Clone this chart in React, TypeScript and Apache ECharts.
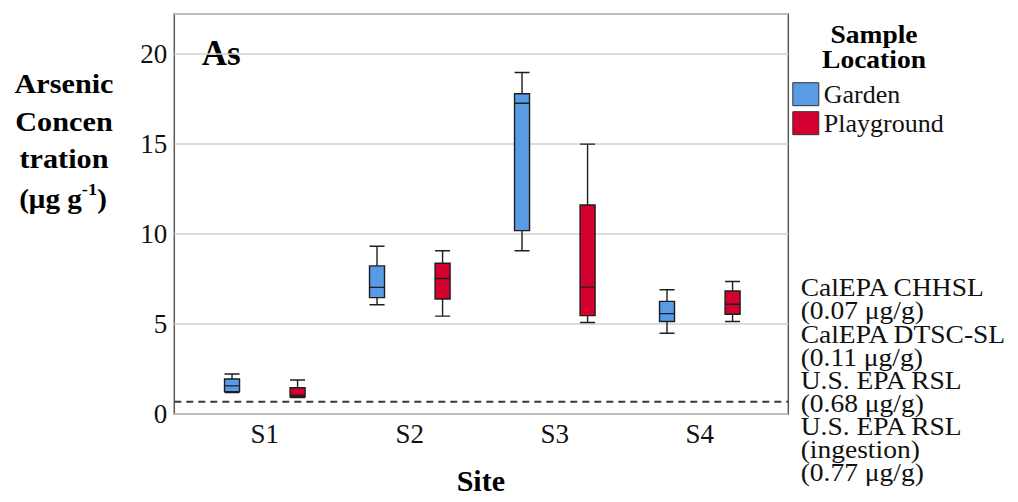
import React, { useEffect, useRef } from "react";
import * as echarts from "echarts";

const categories = ["S1", "S2", "S3", "S4"];
// [min, Q1, median, Q3, max]
const gardenStats = [
  [1.19, 1.24, 1.56, 1.94, 2.22],
  [6.06, 6.46, 7.03, 8.22, 9.31],
  [9.06, 10.18, 17.25, 17.77, 18.95],
  [4.48, 5.13, 5.57, 6.25, 6.9],
];
const playgroundStats = [
  [0.91, 0.96, 1.05, 1.46, 1.89],
  [5.43, 6.38, 7.52, 8.37, 9.06],
  [5.08, 5.46, 7.04, 11.6, 14.98],
  [5.13, 5.54, 6.09, 6.83, 7.35],
];
const seriesNames = ["Garden", "Playground"];
const referenceLevel = 0.68;
const yTicks = [0, 5, 10, 15, 20];
const yAxisTitleLines = ["Arsenic", "Concen", "tration"];
const legendTitle = "Sample\nLocation";
const panelLabel = "As";
const xAxisTitle = "Site";
const guidelineLines = [
  "CalEPA CHHSL",
  "(0.07 μg/g)",
  "CalEPA DTSC-SL",
  "(0.11 μg/g)",
  "U.S. EPA RSL",
  "(0.68 μg/g)",
  "U.S. EPA RSL",
  "(ingestion)",
  "(0.77 μg/g)",
];

const FONT = "'Liberation Serif', 'Times New Roman', serif";
const BLUE = "#5a9be6";
const RED = "#d4002f";
const EDGE = "#1e1e1e";

export default function App() {
  const ref = useRef<HTMLDivElement>(null);

  useEffect(() => {
    if (!ref.current) return;
    const chart = echarts.init(ref.current, null, { renderer: "svg" });

    const frame = { left: 174.3, top: 14, width: 614, height: 400 };
    const yMax = 22.2;
    const colors = [BLUE, RED];

    const option: any = {
      animation: false,
      backgroundColor: "#ffffff",
      textStyle: { fontFamily: FONT },
      grid: [
        {
          ...frame,
          show: true,
          borderColor: "#5a5a5a",
          borderWidth: 1.5,
          backgroundColor: "transparent",
        },
        { left: 192.3, top: 14, width: 580, height: 400, show: false },
      ],
      xAxis: [
        { type: "value", gridIndex: 0, min: 0, max: 1, show: false },
        {
          type: "category",
          gridIndex: 1,
          data: categories,
          axisLine: { show: false },
          axisTick: { show: false },
          axisLabel: {
            fontSize: 27,
            fontFamily: FONT,
            color: "#111",
            margin: 6,
          },
        },
      ],
      yAxis: [
        {
          type: "value",
          gridIndex: 0,
          min: 0,
          max: yMax,
          interval: 5,
          axisLine: { show: false },
          axisTick: { show: false },
          axisLabel: {
            fontSize: 27,
            fontFamily: FONT,
            color: "#111",
            margin: 7,
            showMaxLabel: false,
            formatter: (v: number) => (yTicks.includes(v) ? String(v) : ""),
          },
          splitLine: { lineStyle: { color: "#d2d2d2", width: 1.6 } },
        },
        {
          type: "value",
          gridIndex: 1,
          min: 0,
          max: yMax,
          show: false,
          splitLine: { show: false },
        },
      ],
      legend: {
        data: seriesNames.map((n, i) => ({
          name: n,
          itemStyle: { color: colors[i], borderColor: "#333", borderWidth: 1 },
        })),
        orient: "vertical",
        left: 792.3,
        top: 81.2,
        padding: 0,
        itemWidth: 26,
        itemHeight: 23,
        itemGap: 3,
        icon: "rect",
        textStyle: { fontSize: 26, fontFamily: FONT, color: "#111" },
      },
      series: [
        {
          name: seriesNames[0],
          type: "boxplot",
          xAxisIndex: 1,
          yAxisIndex: 1,
          data: gardenStats,
          boxWidth: [15, 15],
          itemStyle: { color: BLUE, borderColor: EDGE, borderWidth: 1.4 },
        },
        {
          name: seriesNames[1],
          type: "boxplot",
          xAxisIndex: 1,
          yAxisIndex: 1,
          data: playgroundStats,
          boxWidth: [15, 15],
          itemStyle: { color: RED, borderColor: EDGE, borderWidth: 1.4 },
        },
        {
          name: "reference",
          type: "line",
          xAxisIndex: 0,
          yAxisIndex: 0,
          data: [
            [0, referenceLevel],
            [1, referenceLevel],
          ],
          symbol: "none",
          silent: true,
          lineStyle: { color: "#3a3a3a", width: 1.8, type: [7, 5] },
        },
      ],
      graphic: [
        {
          type: "text",
          x: 201.7,
          y: 53.5,
          style: {
            text: panelLabel,
            font: `bold 35px ${FONT}`,
            fill: "#000",
            textAlign: "left",
            textVerticalAlign: "middle",
          },
        },
        {
          type: "text",
          x: 874,
          y: 47.5,
          scaleX: 1.1,
          style: {
            text: legendTitle,
            font: `bold 25px ${FONT}`,
            lineHeight: 25,
            fill: "#000",
            textAlign: "center",
            textVerticalAlign: "middle",
          },
        },
        ...yAxisTitleLines.map((t, i) => ({
          type: "text",
          x: 64,
          y: 84 + i * 37.5,
          scaleX: 1.12,
          style: {
            text: t,
            font: `bold 27px ${FONT}`,
            fill: "#000",
            textAlign: "center",
            textVerticalAlign: "middle",
          },
        })),
        {
          type: "text",
          x: 63,
          y: 196.5,
          scaleX: 1.08,
          style: {
            text: "{b|(μg g}{s|-1}{b|)}",
            textAlign: "center",
            textVerticalAlign: "middle",
            fill: "#000",
            rich: {
              b: {
                font: `bold 27px ${FONT}`,
                fill: "#000",
                lineHeight: 32,
                verticalAlign: "bottom",
              },
              s: {
                font: `bold 17px ${FONT}`,
                fill: "#000",
                lineHeight: 18,
                verticalAlign: "top",
              },
            },
          },
        },
        {
          type: "text",
          x: 480.8,
          y: 480,
          style: {
            text: xAxisTitle,
            font: `bold 30px ${FONT}`,
            fill: "#000",
            textAlign: "center",
            textVerticalAlign: "middle",
          },
        },
        {
          type: "text",
          x: 800.7,
          y: 288.3 - 11.55,
          scaleX: 1.1,
          style: {
            text: guidelineLines.join("\n"),
            font: `25px ${FONT}`,
            lineHeight: 23.1,
            fill: "#111",
            textAlign: "left",
            textVerticalAlign: "top",
          },
        },
      ],
    };

    chart.setOption(option);
    return () => chart.dispose();
  }, []);

  return (
    <div
      ref={ref}
      style={{
        position: "fixed",
        left: 0,
        top: 0,
        width: "1018px",
        height: "502px",
      }}
    />
  );
}
